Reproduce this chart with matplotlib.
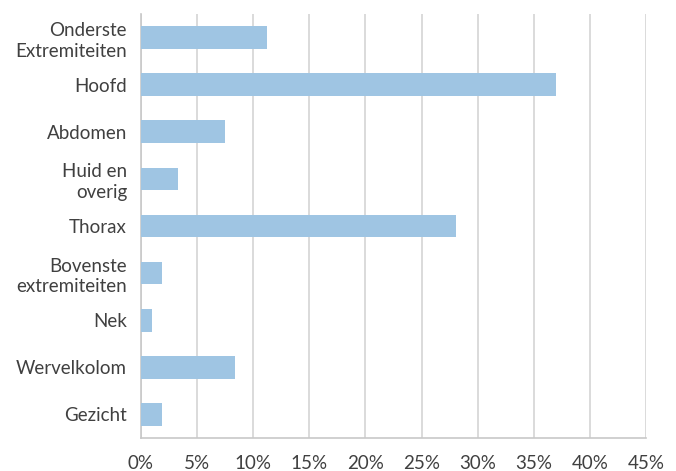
import matplotlib
matplotlib.use("Agg")
import matplotlib.pyplot as plt
from matplotlib.ticker import FuncFormatter, MultipleLocator

categories = [
    "Onderste\nExtremiteiten",
    "Hoofd",
    "Abdomen",
    "Huid en\noverig",
    "Thorax",
    "Bovenste\nextremiteiten",
    "Nek",
    "Wervelkolom",
    "Gezicht",
]
values = [11.2, 37.0, 7.5, 3.3, 28.1, 1.85, 1.0, 8.4, 1.85]

plt.rcParams["font.family"] = ["Lato", "DejaVu Sans"]

fig = plt.figure(figsize=(6.76, 4.71), dpi=100)
ax = fig.add_axes([141 / 676, 1 - 438 / 471, 505 / 676, 424 / 471])

y = list(range(len(categories)))
ax.barh(y, values, height=0.48, color="#9fc5e3", zorder=3)

ax.set_xlim(0, 45)
ax.set_ylim(len(categories) - 0.5, -0.5)
ax.xaxis.set_major_locator(MultipleLocator(5))
ax.xaxis.set_major_formatter(FuncFormatter(lambda v, _: f"{v:.0f}%"))
ax.set_yticks(y)
ax.set_yticklabels(categories)

ax.grid(axis="x", color="#d4d4d4", linewidth=1.2, zorder=0)
for side in ("top", "right"):
    ax.spines[side].set_visible(False)
ax.spines["left"].set_color("#c8c8c8")
ax.spines["bottom"].set_color("#c8c8c8")
ax.spines["left"].set_linewidth(1.2)
ax.spines["bottom"].set_linewidth(1.2)

ax.tick_params(axis="x", length=0, pad=12, labelsize=13.5, labelcolor="#404040")
ax.tick_params(axis="y", length=0, pad=10, labelsize=13.5, labelcolor="#404040")
for lbl in ax.get_yticklabels():
    lbl.set_linespacing(1.25)

fig.savefig("out.png", dpi=100)
